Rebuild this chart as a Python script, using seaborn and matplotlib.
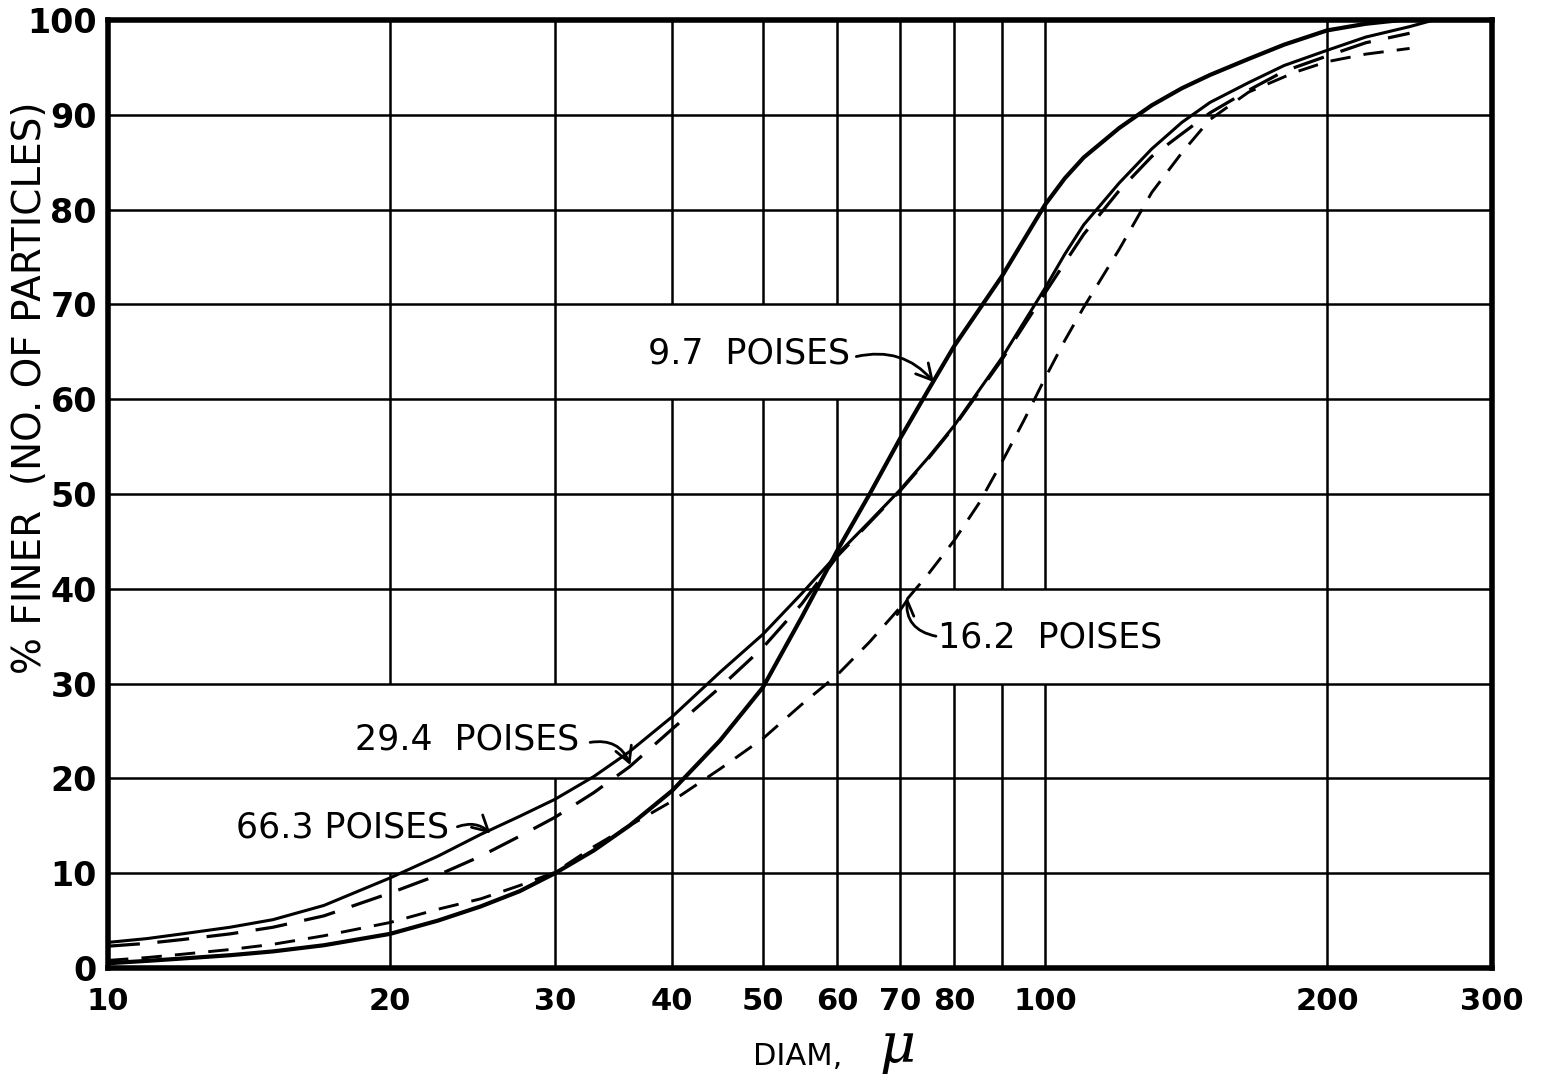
import matplotlib
matplotlib.use("Agg")
import matplotlib.pyplot as plt
from matplotlib import font_manager
from matplotlib.patches import Rectangle
from matplotlib.ticker import FixedLocator, FixedFormatter, NullLocator
import pandas as pd
import seaborn as sns

# Cumulative size distributions (% finer, by number of particles) vs diameter (microns)
diam_97 = [10, 11, 12, 13.5, 15, 17, 20, 22.5, 25, 27.5, 30, 33, 36, 40, 45, 50, 55, 60,
           65, 70, 75, 80, 90, 100, 105, 110, 120, 130, 140, 150, 165, 180, 200, 220, 240, 300]
finer_97 = [0.5, 0.75, 1.0, 1.35, 1.75, 2.4, 3.6, 5.0, 6.5, 8.1, 10.0, 12.4, 15.0, 18.7, 24.0,
            29.6, 37.0, 44.0, 50.0, 55.8, 60.9, 65.6, 73.0, 80.5, 83.3, 85.5, 88.6, 91.0, 92.8,
            94.2, 95.9, 97.4, 98.9, 99.6, 100.0, 100.0]

diam_663 = [10, 11, 12, 13.5, 15, 17, 20, 22.5, 25, 27.5, 30, 33, 36, 40, 45, 50, 55, 60,
            65, 70, 75, 80, 90, 100, 105, 110, 120, 130, 140, 150, 165, 180, 200, 220, 245, 260]
finer_663 = [2.7, 3.1, 3.6, 4.3, 5.1, 6.6, 9.5, 11.8, 14.1, 16.0, 17.8, 20.2, 22.8, 26.5, 31.2,
             35.2, 39.5, 43.6, 47.1, 50.4, 53.8, 57.2, 64.4, 71.7, 75.3, 78.4, 82.8, 86.4,
             89.2, 91.3, 93.4, 95.2, 96.8, 98.2, 99.3, 100.0]

diam_294 = [10, 11, 12, 13.5, 15, 17, 20, 22.5, 25, 27.5, 30, 33, 36, 40, 45, 50, 55, 60,
            65, 70, 75, 80, 90, 100, 105, 110, 120, 130, 140, 150, 165, 180, 200, 220, 245]
finer_294 = [2.3, 2.6, 3.0, 3.6, 4.3, 5.5, 7.9, 9.8, 11.8, 13.9, 15.9, 18.5, 21.2, 25.2, 29.6,
             33.8, 38.4, 43.4, 47.0, 50.3, 53.7, 57.1, 64.2, 71.2, 74.4, 77.4, 82.0, 85.6,
             88.0, 90.2, 92.6, 94.6, 96.2, 97.6, 98.6]

diam_162 = [10, 11, 12, 13.5, 15, 17, 20, 22.5, 25, 27.5, 30, 33, 36, 40, 45, 50, 55, 60,
            65, 70, 75, 80, 85, 90, 95, 100, 105, 110, 120, 130, 140, 150, 165, 185, 200, 220, 245]
finer_162 = [0.8, 1.1, 1.45, 1.95, 2.5, 3.4, 4.8, 6.2, 7.3, 8.7, 10.1, 12.8, 15.0, 17.6, 21.0,
             24.2, 27.8, 30.9, 34.4, 38.0, 41.5, 45.1, 49.0, 53.4, 57.8, 62.2, 66.2, 69.7,
             75.8, 81.8, 86.0, 89.5, 92.4, 94.5, 95.6, 96.4, 97.0]

series_names = ["9.7 POISES", "66.3 POISES", "29.4 POISES", "16.2 POISES"]

x_ticks = [10, 20, 30, 40, 50, 60, 70, 80, 90, 100, 200, 300]
x_tick_labels = ["10", "20", "30", "40", "50", "60", "70", "80", "", "100", "200", "300"]
y_ticks = list(range(0, 101, 10))
y_tick_labels = [str(v) for v in y_ticks]

frames = []
for name, d, f in zip(series_names,
                      [diam_97, diam_663, diam_294, diam_162],
                      [finer_97, finer_663, finer_294, finer_162]):
    frames.append(pd.DataFrame({"diam": d, "finer": f, "viscosity": name}))
df = pd.concat(frames, ignore_index=True)

sns.set_theme(style="white")
plt.rcParams["font.family"] = ["DejaVu Sans"]

available = {f.name for f in font_manager.fontManager.ttflist}
if "Liberation Sans Narrow" in available:
    letter_family, letter_size = "Liberation Sans Narrow", 30
else:
    letter_family, letter_size = "DejaVu Sans", 25

fig = plt.figure(figsize=(15.45, 10.81), dpi=100)
ax = fig.add_axes([108 / 1545, 1 - 968 / 1081, (1492 - 108) / 1545, (968 - 20) / 1081])
ax.set_facecolor("white")
ax.set_xscale("log")

sns.lineplot(
    data=df, x="diam", y="finer",
    hue="viscosity", style="viscosity", size="viscosity",
    palette={n: "black" for n in series_names},
    dashes={"9.7 POISES": "", "66.3 POISES": "",
            "29.4 POISES": (10, 5.5), "16.2 POISES": (7, 4.5)},
    sizes={"9.7 POISES": 3.0, "66.3 POISES": 2.2,
           "29.4 POISES": 2.3, "16.2 POISES": 2.1},
    estimator=None, sort=False, legend=False, ax=ax, zorder=3,
)

ax.set_xlim(10, 300)
ax.set_ylim(0, 100)
ax.xaxis.set_major_locator(FixedLocator(x_ticks))
ax.xaxis.set_major_formatter(FixedFormatter(x_tick_labels))
ax.xaxis.set_minor_locator(NullLocator())
ax.yaxis.set_major_locator(FixedLocator(y_ticks))
ax.yaxis.set_major_formatter(FixedFormatter(y_tick_labels))

ax.set_axisbelow(True)
# vertical rules sit under the label panels, horizontal rules stay on top of them
ax.xaxis.set_zorder(0.4)
ax.yaxis.set_zorder(0.8)
ax.grid(True, which="major", color="black", linewidth=1.8)
ax.tick_params(axis="both", length=0, labelcolor="black")
ax.tick_params(axis="x", pad=14)
ax.tick_params(axis="y", pad=8)
for lab in ax.get_xticklabels():
    lab.set_fontsize(22)
    lab.set_fontweight("bold")
for lab in ax.get_yticklabels():
    lab.set_fontsize(24)
    lab.set_fontweight("bold")
for sp in ax.spines.values():
    sp.set_visible(True)
    sp.set_color("black")
    sp.set_linewidth(4)
ax.set_xlabel("")
ax.set_ylabel("")

# blank panels behind the curve labels interrupt the vertical rules
label_panels = [((37.0, 60), 63.8, 70),
                ((75.0, 30), 136.0, 40),
                ((17.9, 20), 33.1, 30),
                ((13.2, 10), 24.3, 20)]
for (x0, y0), x1, y1 in label_panels:
    ax.add_patch(Rectangle((x0, y0), x1 - x0, y1 - y0, facecolor="white",
                           edgecolor="none", zorder=0.6))

text_kw = dict(fontsize=letter_size, family=letter_family, color="black", zorder=4)
ax.text(61.9, 64.8, "9.7  POISES", ha="right", va="center", **text_kw)
ax.text(76.9, 34.9, "16.2  POISES", ha="left", va="center", **text_kw)
ax.text(31.8, 24.1, "29.4  POISES", ha="right", va="center", **text_kw)
ax.text(23.1, 14.8, "66.3 POISES", ha="right", va="center", **text_kw)

arrow_style = "->,head_length=0.55,head_width=0.3"
arrows = [((62.9, 64.5), (76.1, 61.8), -0.3),
          ((76.5, 35.0), (71.3, 39.1), -0.45),
          ((32.7, 23.8), (36.1, 21.4), -0.4),
          ((23.6, 14.9), (25.6, 14.2), -0.3)]
for tail, tip, rad in arrows:
    ax.annotate("", xy=tip, xytext=tail,
                arrowprops=dict(arrowstyle=arrow_style, color="black", lw=2,
                                shrinkA=0, shrinkB=0, mutation_scale=20,
                                connectionstyle=f"arc3,rad={rad}"),
                zorder=4)

fig.text(30 / 1545, 1 - 388 / 1081, "% FINER  (NO. OF PARTICLES)", rotation=90,
         ha="center", va="center", fontsize=28, color="black")
fig.text(842 / 1545, 1 - 1065 / 1081, "DIAM,", ha="right", va="baseline",
         fontsize=22, color="black")
fig.text(880 / 1545, 1 - 1062 / 1081, "μ", ha="left", va="baseline",
         fontsize=40, style="italic", family="DejaVu Serif", color="black")

fig.savefig("out.png", dpi=100, facecolor="white")
